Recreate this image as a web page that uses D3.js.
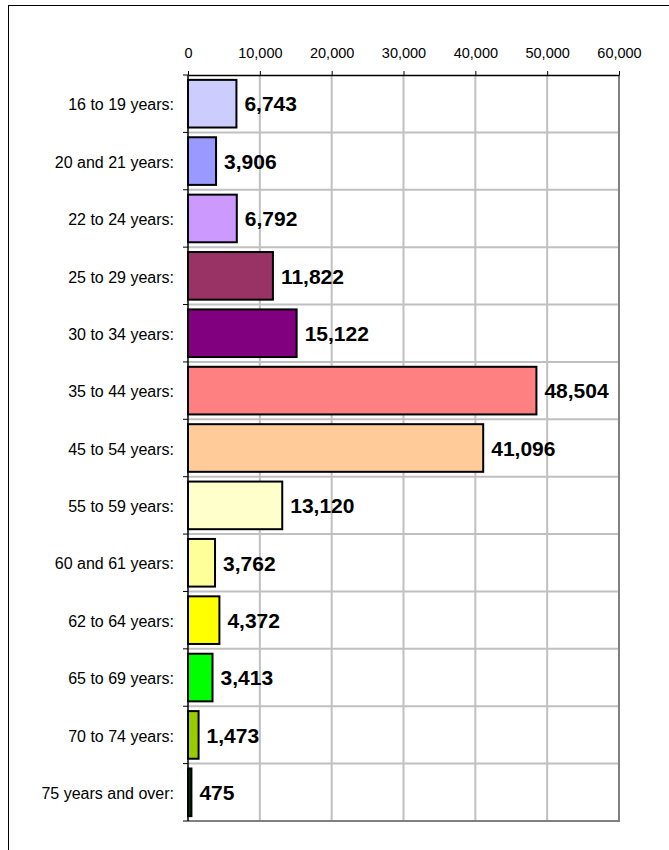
<!DOCTYPE html>
<html><head><meta charset="utf-8">
<script src="https://cdn.jsdelivr.net/npm/d3@7"></script>
<style>body{margin:0;background:#fff}svg{display:block}</style>
</head><body>
<script>
const categories = ["16 to 19 years:","20 and 21 years:","22 to 24 years:","25 to 29 years:","30 to 34 years:","35 to 44 years:","45 to 54 years:","55 to 59 years:","60 and 61 years:","62 to 64 years:","65 to 69 years:","70 to 74 years:","75 years and over:"];
const values = [6743,3906,6792,11822,15122,48504,41096,13120,3762,4372,3413,1473,475];
const colors = ["#CCCCFF","#9999FF","#CC99FF","#993366","#800080","#FF8080","#FFCC99","#FFFFCC","#FFFF99","#FFFF00","#00FF00","#99CC00","#003300"];
const tickValues = [0,10000,20000,30000,40000,50000,60000];

(function(){
const W = 669, H = 850;
const FONT = "'Liberation Sans', Arial, sans-serif";
const svg = d3.select("body").append("svg").attr("width", W).attr("height", H);
svg.append("rect").attr("x",8.5).attr("y",5.5).attr("width",W+20).attr("height",H+20)
  .attr("fill","none").attr("stroke","#000").attr("stroke-width",1);

const pL = 188, pR = 619, pT = 75, pB = 821;
const x = d3.scaleLinear().domain([0,60000]).range([pL,pR]);
const y = d3.scaleBand().domain(categories).range([pT,pB]).paddingInner(0.17).paddingOuter(0.085);
const yb = d3.scaleBand().domain(categories).range([pT,pB]);
const fmt = d3.format(",");

// vertical gridlines
svg.append("g").selectAll("line").data(tickValues.slice(1,-1)).join("line")
  .attr("x1",d=>x(d)).attr("x2",d=>x(d)).attr("y1",pT).attr("y2",pB)
  .attr("stroke","#c0c0c0").attr("stroke-width",2);
// horizontal gridlines
svg.append("g").selectAll("line").data(categories.slice(1)).join("line")
  .attr("x1",pL).attr("x2",pR).attr("y1",d=>yb(d)).attr("y2",d=>yb(d))
  .attr("stroke","#c0c0c0").attr("stroke-width",2);
// right & bottom border
svg.append("path").attr("d",`M${pR},${pT}V${pB}H${pL}`)
  .attr("fill","none").attr("stroke","#808080").attr("stroke-width",2);

// bars
svg.append("g").selectAll("rect").data(values).join("rect")
  .attr("x",x(0)).attr("y",(d,i)=>y(categories[i]))
  .attr("width",d=>x(d)-x(0)).attr("height",y.bandwidth())
  .attr("fill",(d,i)=>colors[i]).attr("stroke","#000").attr("stroke-width",2);

// value labels
svg.append("g").selectAll("text").data(values).join("text")
  .attr("x",d=>x(d)+8).attr("y",(d,i)=>yb(categories[i])+yb.bandwidth()/2)
  .attr("dy","0.37em")
  .attr("font-family",FONT).attr("font-size",21).attr("font-weight","bold")
  .text(d=>fmt(d));

// top axis
const ax = svg.append("g").attr("transform",`translate(0,${pT})`)
  .call(d3.axisTop(x).tickValues(tickValues).tickFormat(fmt).tickSize(4).tickSizeOuter(0).tickPadding(13));
ax.select(".domain").attr("stroke","#000").attr("stroke-width",1.5);
ax.selectAll(".tick line").attr("stroke","#000");
ax.selectAll("text").attr("font-family",FONT).attr("font-size",14.5).attr("fill","#000");

// left axis
svg.append("line").attr("x1",pL).attr("x2",pL).attr("y1",pT).attr("y2",pB).attr("stroke","#000").attr("stroke-width",1.5);
svg.append("g").selectAll("line").data(categories.concat(["end"])).join("line")
  .attr("x1",pL-5).attr("x2",pL).attr("y1",(d,i)=>i<categories.length?yb(d):pB).attr("y2",(d,i)=>i<categories.length?yb(d):pB)
  .attr("stroke","#000").attr("stroke-width",1);
svg.append("g").selectAll("text").data(categories).join("text")
  .attr("x",174).attr("y",d=>yb(d)+yb.bandwidth()/2).attr("dy","0.42em")
  .attr("text-anchor","end")
  .attr("font-family",FONT).attr("font-size",16).attr("fill","#000")
  .text(d=>d);
})();
</script>
</body></html>
